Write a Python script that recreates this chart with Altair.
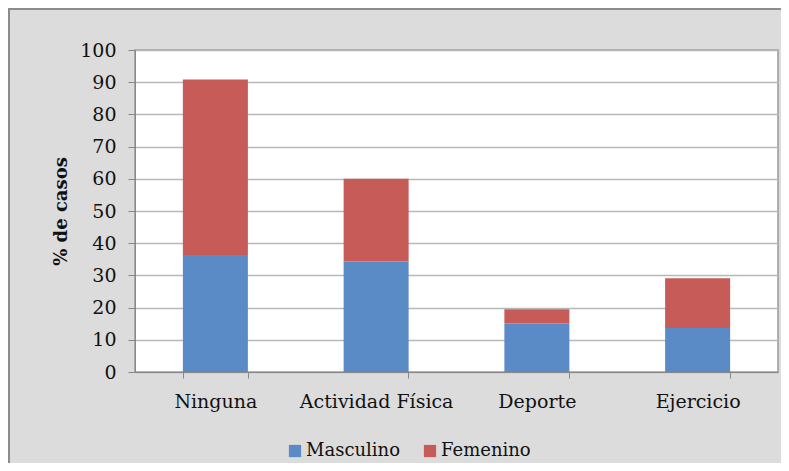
import altair as alt
import pandas as pd

categories = ["Ninguna", "Actividad Física", "Deporte", "Ejercicio"]
series = ["Masculino", "Femenino"]
masculino = [36.3, 34.3, 15.1, 13.7]
femenino = [54.5, 25.7, 4.4, 15.4]
colors = ["#5b8bc6", "#c65b57"]

rows = []
for i, c in enumerate(categories):
    rows.append({"cat": c, "serie": "Masculino", "orden": 0, "valor": masculino[i]})
    rows.append({"cat": c, "serie": "Femenino", "orden": 1, "valor": femenino[i]})
df = pd.DataFrame(rows)

FONT = "DejaVu Serif"
W, H = 643, 322

bars = alt.Chart(df).mark_bar(size=65).encode(
    x=alt.X("cat:N", sort=categories, title=None,
            scale=alt.Scale(paddingInner=0.6, paddingOuter=0.3),
            axis=alt.Axis(labelAngle=0, tickBand="extent", labelPadding=14,
                          labelFontSize=19, labelFont=FONT, labelColor="#111111",
                          domainColor="#888888", tickColor="#888888", tickSize=6,
                          grid=False)),
    y=alt.Y("valor:Q", stack="zero", title="% de casos",
            scale=alt.Scale(domain=[0, 100]),
            axis=alt.Axis(values=list(range(0, 101, 10)), labelPadding=12,
                          labelFontSize=19, labelFont=FONT, labelColor="#111111",
                          titleFont=FONT, titleFontSize=18, titleFontWeight="bold",
                          titleColor="#111111", titlePadding=9,
                          domainColor="#888888", tickColor="#888888", tickSize=7,
                          gridColor="#b8b8b8", gridWidth=1.3)),
    color=alt.Color("serie:N", sort=series,
                    scale=alt.Scale(domain=series, range=colors),
                    legend=alt.Legend(title=None, orient="none", legendX=151, legendY=392,
                                      direction="horizontal", symbolType="square",
                                      symbolSize=150, symbolStrokeWidth=0,
                                      labelFont=FONT, labelFontSize=18,
                                      labelColor="#111111", columnPadding=20,
                                      labelOffset=2)),
    order=alt.Order("orden:Q"),
)

border = alt.Chart(alt.Data(values=[{}])).mark_rect(
    fillOpacity=0, stroke="#8c8c8c", strokeWidth=2
).encode(
    x=alt.value(-126), x2=alt.value(W + 40),
    y=alt.value(-41), y2=alt.value(H + 140),
)

chart = alt.layer(border, bars).properties(
    width=W, height=H,
    autosize=alt.AutoSizeParams(type="none"),
    padding={"left": 127, "top": 42, "right": 3, "bottom": 91},
    background="#dcdcdc",
).configure_view(fill="white", stroke="#999999", strokeWidth=1.5)

chart.save("out.html", embed_options={"renderer": "svg", "actions": False})
